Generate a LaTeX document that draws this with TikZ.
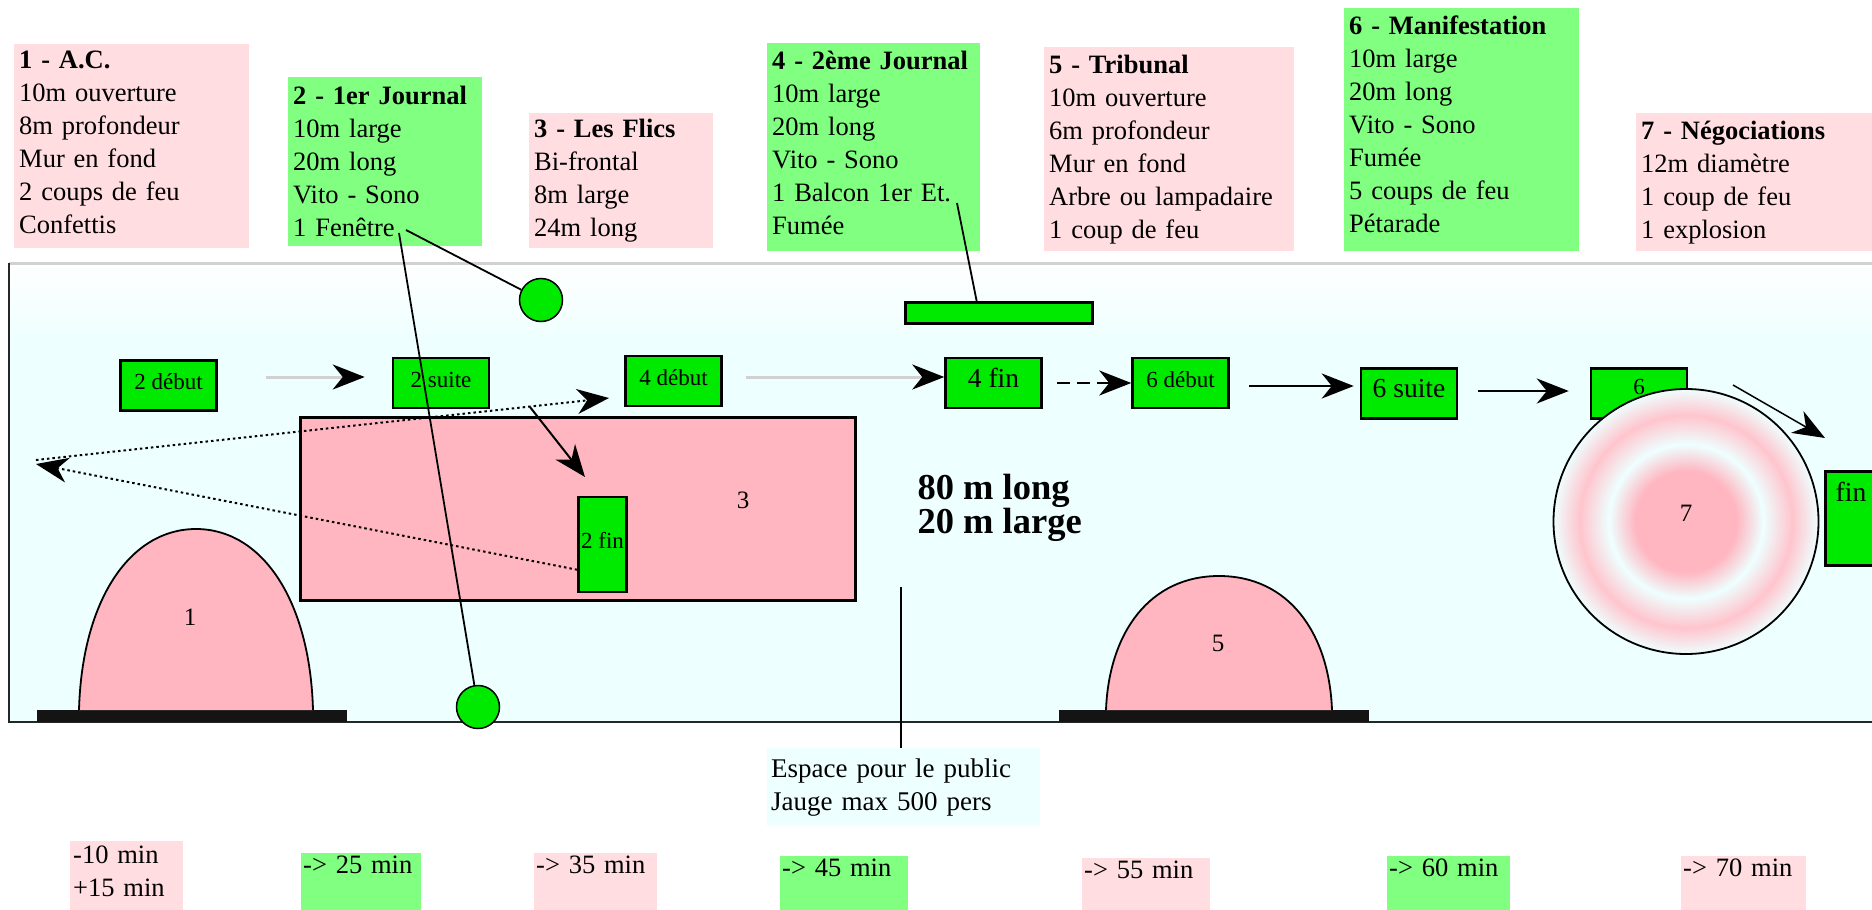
\documentclass[tikz,border=0pt]{standalone}
\usepackage{fontspec}
\setmainfont{Liberation Serif}
\usetikzlibrary{arrows.meta}
\definecolor{rosepale}{HTML}{FFDDE1}
\definecolor{rosevif}{HTML}{FFB6C1}
\definecolor{vertpale}{HTML}{80FF80}
\definecolor{vertvif}{HTML}{00EA00}
\definecolor{azur}{HTML}{EEFFFF}
\pgfdeclareradialshading{anneaux}{\pgfpoint{0bp}{0bp}}{color(0bp)=(rosevif); color(9.5bp)=(rosevif); color(14.5bp)=(azur); color(20bp)=(rosevif!80!white); color(25bp)=(azur); color(50bp)=(azur)}
\newcommand{\marge}[1]{\rule[-#1pt]{0pt}{#1pt}}
\tikzset{
    fiche/.style={anchor=north west, inner xsep=5pt, inner ysep=0pt, align=left, font=\fontsize{26.5}{33}\selectfont},
    fichepale/.style={fiche, fill=rosepale},
    ficheverte/.style={fiche, fill=vertpale},
    duree/.style={anchor=north west, inner xsep=2pt, inner ysep=2pt, align=left, font=\fontsize{26.5}{33}\selectfont, text height=18pt, text depth=35pt},
    etape/.style={draw=black, line width=2.5pt, fill=vertvif, minimum width=96pt, minimum height=50pt, inner sep=0pt, font=\fontsize{23}{27}\selectfont, text height=16pt, text depth=8pt},
    poste/.style={circle, draw=black, line width=1.5pt, fill=vertvif, minimum size=43pt, inner sep=0pt},
    numero/.style={font=\fontsize{25}{30}\selectfont},
    fleche/.style={->, line width=2.5pt},
    flechegrise/.style={->, line width=3pt, draw=black!18},
    fil/.style={line width=1.8pt},
    pointilles/.style={->, line width=2pt, dash pattern=on 2.5pt off 3pt},
}
\begin{document}
\begin{tikzpicture}[x=1pt,y=-1pt,>={Stealth[length=32pt,width=25pt,inset=10pt,black]}]
    \useasboundingbox (0,0) rectangle (1872,910);

    % Draw the hall
    \fill[azur] (9,263) rectangle (1872,722);
    \shade[top color=white, bottom color=azur] (9,263) rectangle (1872,340);
    \draw[black!18, line width=3pt] (9,263) -- (1872,263);
    \draw[black!85, line width=2.5pt] (9,263) -- (9,722) -- (1872,722);

    % Draw the sheets above the hall
    \node[fichepale, text width=225pt, minimum height=204pt] (ficheAC) at (14,44) {\textbf{1 - A.C.}\\10m ouverture\\8m profondeur\\Mur en fond\\2 coups de feu\\Confettis\marge{8}};
    \node[ficheverte, text width=184pt, minimum height=169pt] (ficheJournalA) at (288,77) {\textbf{2 - 1er Journal}\\10m large\\20m long\\Vito - Sono\\1 Fenêtre};
    \node[fichepale, text width=174pt, minimum height=135pt] (ficheFlics) at (529,113) {\textbf{3 - Les Flics}\\Bi-frontal\\8m large\\24m long};
    \node[ficheverte, text width=203pt, minimum height=208pt] (ficheJournalB) at (767,43) {\textbf{4 - 2ème Journal}\\10m large\\20m long\\Vito - Sono\\1 Balcon 1er Et.\\Fumée\marge{8}};
    \node[fichepale, text width=240pt, minimum height=204pt] (ficheTribunal) at (1044,47) {\textbf{5 - Tribunal}\\10m ouverture\\6m profondeur\\Mur en fond\\Arbre ou lampadaire\\1 coup de feu};
    \node[ficheverte, text width=225pt, minimum height=243pt] (ficheManif) at (1344,8) {\textbf{6 - Manifestation}\\10m large\\20m long\\Vito - Sono\\Fumée\\5 coups de feu\\Pétarade\marge{12}};
    \node[fichepale, text width=226pt, minimum height=138pt] (ficheNego) at (1636,113) {\textbf{7 - Négociations}\\12m diamètre\\1 coup de feu\\1 explosion};

    % Draw the stages
    \fill[black!92] (37,710) rectangle (347,722);
    \fill[black!92] (1059,710) rectangle (1369,722);
    \draw[fill=rosevif, line width=1.8pt] (79,710) .. controls (82,600) and (130,529) .. (196,529) .. controls (262,529) and (310,600) .. (313,710);
    \draw[fill=rosevif, line width=1.8pt] (1106,710) .. controls (1109,632) and (1150,576) .. (1219,576) .. controls (1288,576) and (1329,632) .. (1332,710);
    \node[numero] (numAC) at (190,617) {1};
    \node[numero] (numTribunal) at (1218,643) {5};
    \node[draw=black, line width=2.5pt, fill=rosevif, minimum width=555pt, minimum height=183pt, anchor=north west] (zoneFlics) at (299,416) {};
    \node[numero] (numFlics) at (743,500) {3};

    % Draw the green boxes
    \node[etape] (debutA) at (168.5,385.5) {2 début};
    \node[etape] (suiteA) at (441,383) {2 suite};
    \node[etape] (debutB) at (673.5,381) {4 début};
    \node[etape, font=\fontsize{27.5}{33}\selectfont] (finB) at (993.5,383) {4 fin};
    \node[etape] (debutC) at (1180.5,383) {6 début};
    \node[etape, font=\fontsize{27.5}{33}\selectfont] (suiteC) at (1409,393.5) {6 suite};
    \node[etape, text depth=14pt] (dernierC) at (1639,393.5) {6};
    \node[etape, minimum width=48pt, minimum height=95pt] (finA) at (602.5,544.5) {2 fin};
    \node[etape, minimum width=98pt, minimum height=94pt, anchor=north west] (finC) at (1824,470) {};
    \node[font=\fontsize{27.5}{33}\selectfont] (texteFinC) at (1851,492) {fin};
    \node[etape, minimum width=187pt, minimum height=21pt, text height=0pt, text depth=0pt, anchor=north west] (balcon) at (904,301) {};

    % Draw the round place over box 6
    \shade[shading=anneaux] (1686,521.5) circle (133);
    \node[circle, draw=black, line width=1.8pt, minimum size=265pt, inner sep=0pt] (ronde) at (1686,521.5) {};
    \node[numero] (numNego) at (1686,513) {7};

    % Draw the windows
    \node[poste] (fenetreA) at (541,300) {};
    \node[poste] (fenetreB) at (478,707) {};

    % Draw the texts in the hall
    \node[anchor=west, align=left, font=\fontsize{36.5}{33}\selectfont\bfseries] (mesures) at (914,508) {80 m long\\20 m large};
    \node[anchor=north west, fill=azur, inner xsep=4pt, inner ysep=0pt, text width=265pt, minimum height=78pt, align=left, font=\fontsize{27}{33}\selectfont] (public) at (767,748) {Espace pour le public\\Jauge max 500 pers};

    % Draw the times
    \node[anchor=north west, fill=rosepale, inner xsep=3pt, inner ysep=0pt, minimum height=69pt, text width=107pt, align=left, font=\fontsize{26.5}{33}\selectfont] (tempsA) at (70,841) {-10 min\\+15 min\marge{10}};
    \node[duree, fill=vertpale, text width=116pt] (tempsB) at (301,853) {-> 25 min};
    \node[duree, fill=rosepale, text width=119pt] (tempsC) at (534,853) {-> 35 min};
    \node[duree, fill=vertpale, text width=124pt] (tempsD) at (780,856) {-> 45 min};
    \node[duree, fill=rosepale, text width=124pt] (tempsE) at (1082,858) {-> 55 min};
    \node[duree, fill=vertpale, text width=119pt] (tempsF) at (1387,856) {-> 60 min};
    \node[duree, fill=rosepale, text width=121pt] (tempsG) at (1681,856) {-> 70 min};

    % Draw the free ends
    \coordinate (departA) at (266,377);
    \coordinate (departB) at (746,377);
    \coordinate (departC) at (1249,386);
    \coordinate (departD) at (1478,391);
    \coordinate (departE) at (1733,385);
    \coordinate (arriveeE) at (1825,438);
    \coordinate (gauche) at (36,464);
    \coordinate (retour) at (36,460);
    \coordinate (arriveeR) at (609,398);
    \coordinate (departF) at (530,407);
    \coordinate (arriveeF) at (585,477);
    \coordinate (motFenetreA) at (406,230);
    \coordinate (motFenetreB) at (399,233);
    \coordinate (motBalcon) at (957,203);
    \coordinate (piedPublic) at (901,587);

    % Draw the arrows
    \draw[flechegrise, shorten >=27pt] (departA) -- (departA -| suiteA.west);
    \draw[flechegrise] (departB) -- (departB -| finB.west);
    \draw[fleche, dash pattern=on 13pt off 7pt, shorten <=14pt] (finB) -- (debutC);
    \draw[fleche, shorten >=6pt] (departC) -- (departC -| suiteC.west);
    \draw[fleche, shorten >=21pt] (departD) -- (departD -| dernierC.west);
    \draw[->, line width=1.5pt] (departE) -- (arriveeE);
    \draw[pointilles] (retour) -- (arriveeR);
    \draw[pointilles] (finA.225) -- (gauche);
    \draw[->, line width=2pt] (departF) -- (arriveeF);

    % Draw the lines
    \draw[fil] (motFenetreA) -- (fenetreA);
    \draw[fil] (motFenetreB) -- (fenetreB);
    \draw[fil] (motBalcon) -- (balcon.152);
    \draw[fil] (piedPublic) -- (public.north -| piedPublic);
\end{tikzpicture}
\end{document}
